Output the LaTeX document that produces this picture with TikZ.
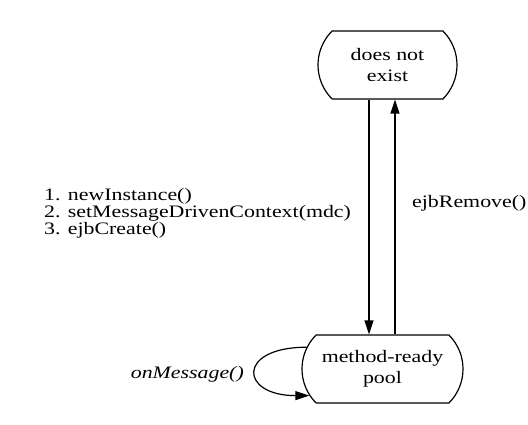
\documentclass[tikz,border=0pt]{standalone}
\usepackage{fontspec}
\setmainfont{Liberation Serif}[FakeStretch=1.25]
\usetikzlibrary{arrows.meta,shapes.misc}

\begin{document}
\begin{tikzpicture}[x=1pt,y=-1pt,
  statebox/.style={draw,rounded rectangle,rounded rectangle arc length=90,minimum height=68pt,line width=1.2pt,align=center,inner sep=0pt,font=\fontsize{17.5}{21}\selectfont},
  lbl/.style={inner sep=0pt,font=\fontsize{17.5}{17}\selectfont},
  arr/.style={-{Triangle[length=14pt,width=9pt]},line width=1.2pt}
]
\useasboundingbox (0,0) rectangle (528,425);
\node[statebox,minimum width=139pt] (exist) at (387.5,65) {does not\\exist};
\node[statebox,minimum width=161pt] (pool) at (382.5,369) {method-ready\\pool};
\node[lbl,anchor=west,align=left] (init) at (44,213) {1. newInstance()\\2. setMessageDrivenContext(mdc)\\3. ejbCreate()};
\node[lbl,anchor=west] (remove) at (412,203) {ejbRemove()};
\node[lbl,anchor=east,font=\fontsize{17.5}{20}\selectfont\itshape] (msg) at (244,374) {onMessage()};
\draw[arr] ([xshift=-18.5pt]exist.south) -- ([xshift=-13.5pt]pool.north);
\draw[arr] ([xshift=12.5pt]pool.north) -- ([xshift=7.5pt]exist.south);
\draw[arr] (pool.164) .. controls +(-70,0) and +(-70,0) .. (pool.200);
\end{tikzpicture}
\end{document}
